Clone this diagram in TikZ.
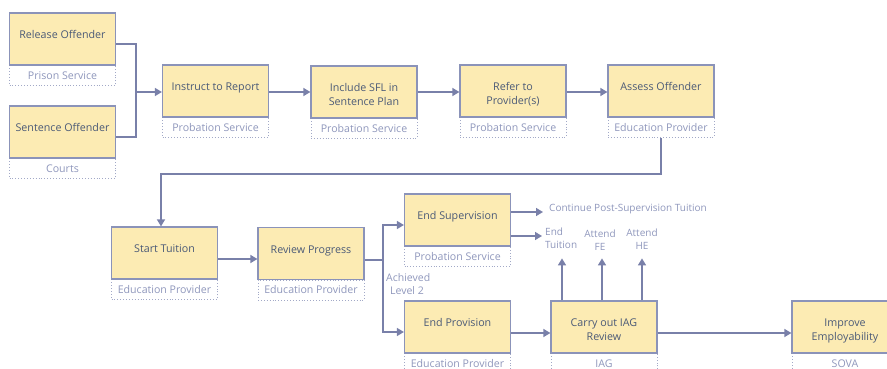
\documentclass[tikz,border=0pt]{standalone}
\usepackage{fontspec}
\setmainfont{Open Sans}
\usetikzlibrary{arrows.meta}
\definecolor{boxfill}{HTML}{FCEBB3}
\definecolor{boxline}{HTML}{8B93B9}
\definecolor{maintext}{HTML}{4B5A77}
\definecolor{subtext}{HTML}{8F97BC}
\definecolor{flow}{HTML}{7980A9}
\tikzset{
  mainbox/.style={draw=boxline, line width=1.2pt, fill=boxfill,
    minimum width=106pt, minimum height=52pt, inner sep=0pt},
  boxtext/.style={text=maintext, align=center, inner sep=0pt,
    font=\fontsize{10.7}{14}\selectfont},
  subbox/.style={draw=boxline!80, dotted, line width=0.9pt, fill=white, text=subtext,
    minimum width=106pt, minimum height=20pt, inner sep=0pt,
    font=\fontsize{10.6}{14}\selectfont},
  note/.style={text=subtext, inner sep=0pt, align=center,
    font=\fontsize{10}{13}\selectfont},
  flowline/.style={draw=flow, line width=1.5pt},
  arrow/.style={flowline, -{Triangle[length=7pt,width=8pt]}},
}
% process box with the responsible body beneath it; text hangs from the top
\newcommand\procbox[5]{%
  \node[subbox, anchor=north] (#1-s) at (#2,#3+26) {#5};
  \node[mainbox] (#1) at (#2,#3) {};
  \node[boxtext, anchor=north] (#1-t) at (#2,#3-8.5) {#4};}
\begin{document}
\begin{tikzpicture}[x=1pt,y=-1pt]
\useasboundingbox (0,0) rectangle (887,369);

% first row
\procbox{rel}{62.5}{39}{Release Offender}{Prison Service}
\procbox{sen}{62.5}{132}{Sentence Offender}{Courts}
\procbox{ins}{215.5}{91}{Instruct to Report}{Probation Service}
\procbox{inc}{364}{92}{Include SFL in\\Sentence Plan}{Probation Service}
\procbox{ref}{513}{91}{Refer to\\Provider(s)}{Probation Service}
\procbox{ass}{661}{91}{Assess Offender}{Education Provider}

% second row
\procbox{sta}{164.5}{253}{Start Tuition}{Education Provider}
\procbox{rev}{311}{253.5}{Review Progress}{Education Provider}
\procbox{esu}{457.5}{220}{End Supervision}{Probation Service}
\procbox{epr}{457.5}{327}{End Provision}{Education Provider}
\procbox{iag}{604}{327}{Carry out IAG\\Review}{IAG}
\procbox{imp}{845}{327}{Improve\\Employability}{SOVA}

% outcome labels
\node[note, anchor=west] (cont) at (549,209.5) {Continue Post-Supervision Tuition};
\node[note, anchor=north west, align=left] (endt) at (545,228) {End\\Tuition};
\node[note, anchor=north] (fe) at (600,230) {Attend\\FE};
\node[note, anchor=north] (he) at (642,229) {Attend\\HE};
\node[note, anchor=north west, align=left, font=\fontsize{10.5}{13}\selectfont]
  (lvl) at (386,273) {Achieved\\\hspace{4pt}Level 2};

% junction points
\coordinate (j1) at (136,92);
\coordinate (j2) at (383,260);
\coordinate (c1) at (543,212);
\coordinate (c2) at (542,236);

% merge of the two entry points
\draw[flowline] ([yshift=-5pt]rel.east) -| (j1) |- ([yshift=-5pt]sen.east);
\draw[arrow] (j1) -- (ins.west |- j1);

% first row flow
\draw[arrow] ([yshift=-1pt]ins.east) -- ([yshift=-1pt]ins.east -| inc.west);
\draw[arrow] (inc.east) -- (inc.east -| ref.west);
\draw[arrow] ([yshift=-1pt]ref.east) -- ([yshift=-1pt]ref.east -| ass.west);
\draw[arrow] (ass-s.south) -- ++(0,36) -| ([xshift=-3.5pt]sta.north);

% second row flow
\draw[arrow] ([yshift=-6pt]sta.east) -- ([yshift=-6pt]sta.east -| rev.west);
\draw[flowline] ([yshift=-6.5pt]rev.east) -- (j2);
\draw[arrow] (j2) |- ([yshift=-5pt]esu.west);
\draw[arrow] (j2) |- ([yshift=-5pt]epr.west);
\draw[arrow] (esu.east |- c1) -- (c1);
\draw[arrow] (esu.east |- c2) -- (c2);
\draw[arrow] ([yshift=-6pt]epr.east) -- ([yshift=-6pt]epr.east -| iag.west);
\draw[arrow] ([yshift=-6pt]iag.east) -- ([yshift=-6pt]iag.east -| imp.west);

% IAG outcomes
\draw[arrow] ([xshift=-42pt]iag.north) -- ++(0,-42);
\draw[arrow] ([xshift=-2pt]iag.north) -- ++(0,-42);
\draw[arrow] ([xshift=38pt]iag.north) -- ++(0,-42);
\end{tikzpicture}
\end{document}
